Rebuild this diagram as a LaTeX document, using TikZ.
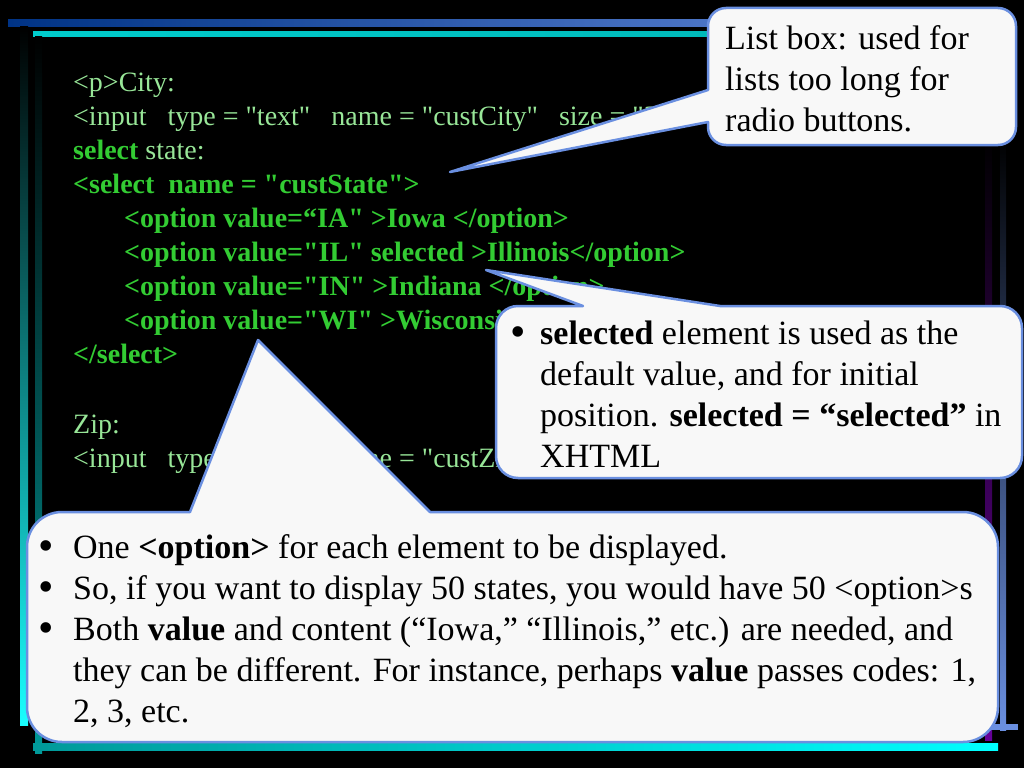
\documentclass[tikz,border=0pt]{standalone}
\usepackage{fontspec}
\setmainfont{Liberation Serif}
\newfontfamily\codefont{Liberation Serif}
\definecolor{lg}{HTML}{98E698}
\definecolor{bg}{HTML}{33CC33}
\definecolor{cfill}{HTML}{F8F8F8}
\definecolor{cline}{HTML}{6A8FE0}
\begin{document}
\begin{tikzpicture}[x=1pt,y=-1pt,
  code/.style={anchor=base west,inner sep=0,font=\codefont\fontsize{28}{34}\selectfont,text=lg},
  bcode/.style={code,text=bg,font=\codefont\fontsize{28}{34}\selectfont\bfseries},
  call/.style={fill=cfill,draw=cline,line width=2.5pt,line join=round},
  ctext/.style={anchor=base west,inner sep=0,font=\fontsize{34}{41}\selectfont,text=black},
  bul/.style={anchor=base west,inner sep=0,font=\fontsize{44}{41}\selectfont,text=black}]
\useasboundingbox (0,0) rectangle (1024,768);
\fill[black] (0,0) rectangle (1024,768);
% frame
\shade[left color=black!60!blue!80!cyan,right color=cline] (8,20) rectangle (1000,27);
\fill[left color=cyan!80!black,right color=cyan!70!black] (33,32) rectangle (1000,37);
\shade[top color=black,bottom color=cyan!90!white] (20,27) rectangle (28,725);
\shade[top color=black,bottom color=cyan!60!black] (35,37) rectangle (42,753);
\shade[left color=cyan!60!black,right color=cyan] (33,743) rectangle (998,750);
\shade[top color=black,bottom color=violet!80!blue] (985,135) rectangle (992,740);
\shade[top color=black,bottom color=cline] (1000,135) rectangle (1006,730);
\fill[cline] (990,724) rectangle (1018,730);
% code
\node[code] (l1) at (73,91) {<p>City:};
\node[code] (l2) at (73,125) {<input\ \ \ type = "text"\ \ \ name = "custCity"\ \ \ size = "30">};
\node[code] (l3) at (73,159) {\textbf{\color{bg}select} state:};
\node[bcode] (l4) at (73,193) {<select\ \ name = "custState">};
\node[bcode] (l5) at (124,227) {<option value=“IA" >Iowa </option>};
\node[bcode] (l6) at (124,261) {<option value="IL" selected >Illinois</option>};
\node[bcode] (l7) at (124,295) {<option value="IN" >Indiana </option>};
\node[bcode] (l8) at (124,329) {<option value="WI" >Wisconsin </option>};
\node[bcode] (l9) at (73,363) {</select>};
\node[code] (l10) at (73,433) {Zip:};
\node[code] (l11) at (73,467) {<input\ \ \ type = "text"\ \ \ name = "custZip"\ \ \ size = "10">};
% callout 1
\draw[call] (708,122) -- (450,172) -- (708,90) [rounded corners=18pt] -- (708,8) -- (1016,8) -- (1016,145) -- (708,145) [sharp corners] -- cycle;
\node[ctext] (c1a) at (725,49) {List box: used for};
\node[ctext] (c1b) at (725,90) {lists too long for};
\node[ctext] (c1c) at (725,131) {radio buttons.};
% callout 2
\draw[call] (583,306) -- (486,270) -- (720,306) [rounded corners=22pt] -- (1022,306) -- (1022,478) -- (496,478) -- (496,306) [sharp corners] -- cycle;
\node[bul] (c2b) at (510,346) {•};
\node[ctext] (c2a) at (540,344) {\textbf{selected} element is used as the};
\node[ctext] (c2c) at (540,385) {default value, and for initial};
\node[ctext] (c2d) at (540,426) {position. \textbf{selected = “selected”} in};
\node[ctext] (c2e) at (540,467) {XHTML};
% callout 3
\draw[call] (190,512) -- (258,340) -- (430,512) [rounded corners=35pt] -- (998,512) -- (998,742) -- (27,742) -- (27,512) [sharp corners] -- cycle;
\node[bul] (b1) at (38,560) {•};
\node[bul] (b2) at (38,601) {•};
\node[bul] (b3) at (38,642) {•};
\node[ctext] (t1) at (73,558) {One \textbf{<option>} for each element to be displayed.};
\node[ctext] (t2) at (73,599) {So, if you want to display 50 states, you would have 50 <option>s};
\node[ctext] (t3) at (73,640) {Both \textbf{value} and content (“Iowa,” “Illinois,” etc.) are needed, and};
\node[ctext] (t4) at (73,681) {they can be different. For instance, perhaps \textbf{value} passes codes: 1,};
\node[ctext] (t5) at (73,722) {2, 3, etc.};
\end{tikzpicture}
\end{document}
